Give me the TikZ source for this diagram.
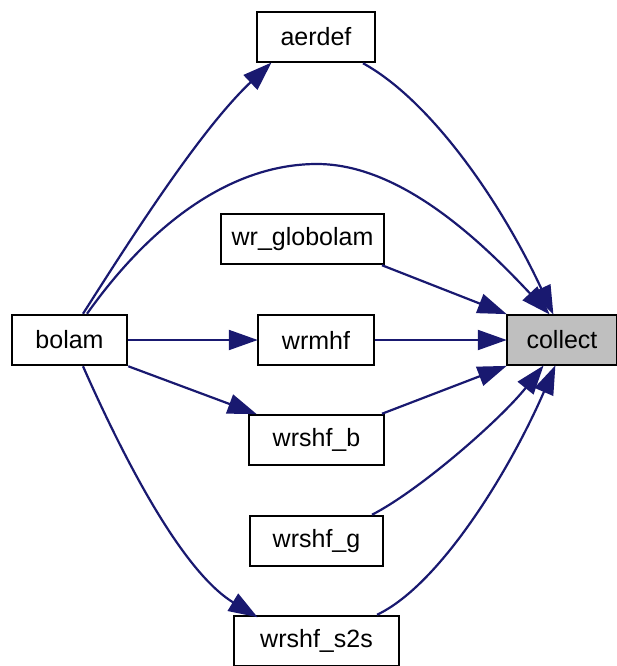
\documentclass[tikz,border=0pt]{standalone}
\usepackage{fontspec}
\setmainfont{Liberation Sans}
\usetikzlibrary{arrows.meta,calc}
\definecolor{edgeblue}{HTML}{191970}
\definecolor{rootgray}{HTML}{BFBFBF}
\begin{document}
\begin{tikzpicture}[x=1pt,y=-1pt,
  fnbox/.style={draw=black,line width=2.5pt,fill=white,inner sep=0pt,
    minimum height=50pt,font=\fontsize{25}{30}\selectfont},
  rootbox/.style={fnbox,fill=rootgray},
  call/.style={draw=edgeblue,line width=2.2pt,
    -{Triangle[length=29pt,width=20pt]},shorten >=-1pt}]
\useasboundingbox (0,0) rectangle (617,666);

% functions
\node[fnbox,minimum width=118pt] (aerdef) at (316,37) {aerdef};
\node[fnbox,minimum width=163pt] (wrglob) at (302.5,239) {wr\_globolam};
\node[fnbox,minimum width=115pt] (bolam) at (69.5,340) {bolam};
\node[fnbox,minimum width=116pt] (wrmhf) at (316,340) {wrmhf};
\node[rootbox,minimum width=110pt] (collect) at (562,340) {collect};
\node[fnbox,minimum width=135pt] (wrshfb) at (316.5,440) {wrshf\_b};
\node[fnbox,minimum width=133pt] (wrshfg) at (316.5,541) {wrshf\_g};
\node[fnbox,minimum width=165pt] (wrshfs) at (316.5,641) {wrshf\_s2s};

% calls into collect
\draw[call] ($(aerdef.south)+(47,0)$) .. controls (430,100) and (500,200) .. ($(collect.north)+(-9,0)$);
\draw[call] ($(bolam.north)+(17.5,0)$) .. controls (150,225) and (230,164) .. (317,164)
  .. controls (400,164) and (480,240) .. ($(collect.north)+(-13,0)$);
\draw[call] ($(wrglob.south)+(79.5,0)$) -- (collect.north west);
\draw[call] (wrmhf.east) -- (collect.west);
\draw[call] ($(wrshfb.north)+(65.5,0)$) -- (collect.south west);
\draw[call] ($(wrshfg.north)+(55.5,0)$) .. controls (420,490) and (500,420) .. ($(collect.south)+(-19,0)$);
\draw[call] ($(wrshfs.north)+(60.5,0)$) .. controls (440,585) and (510,470) .. ($(collect.south)+(-7,0)$);

% calls from bolam
\draw[call] ($(bolam.north)+(13.5,0)$) .. controls (130,240) and (200,130) .. ($(aerdef.south west)+(15,0)$);
\draw[call] (bolam.east) -- (wrmhf.west);
\draw[call] (bolam.south east) -- ($(wrshfb.north west)+(8,0)$);
\draw[call] ($(bolam.south)+(13.5,0)$) .. controls (120,450) and (180,570) .. ($(wrshfs.north west)+(24,2)$);
\end{tikzpicture}
\end{document}
